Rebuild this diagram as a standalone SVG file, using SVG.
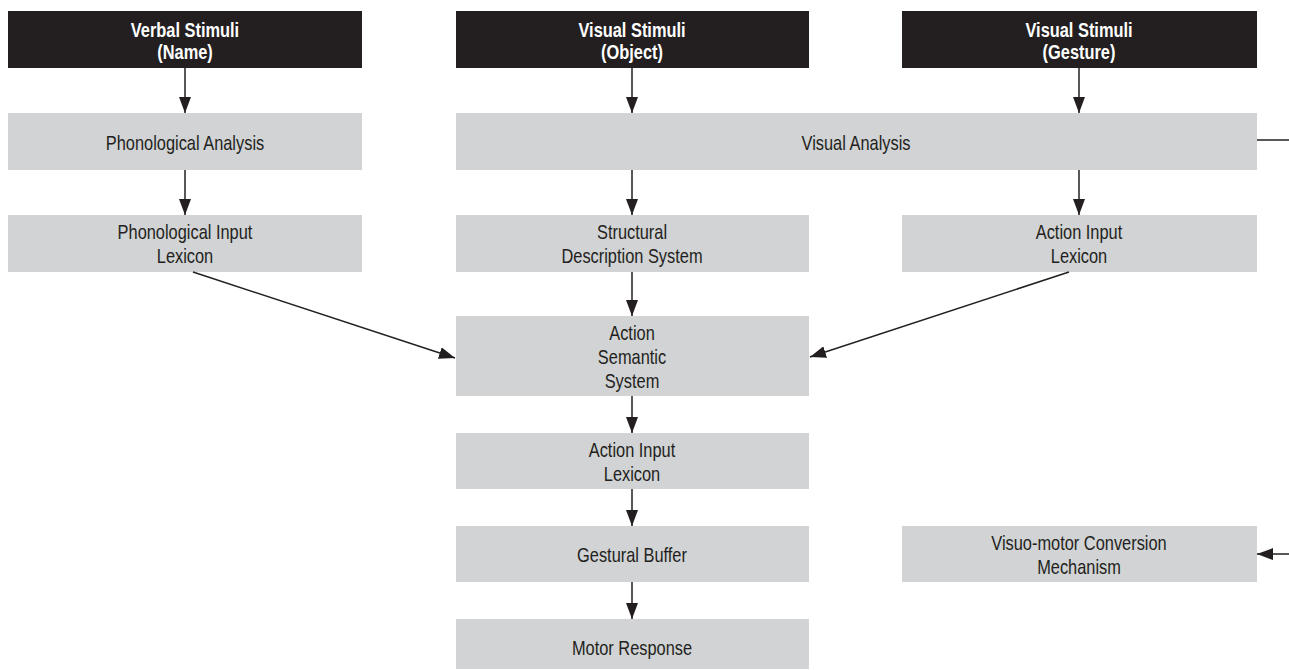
<svg xmlns="http://www.w3.org/2000/svg" width="1289" height="670" viewBox="0 0 1289 670">
<defs>
<style>
.g{fill:#d1d3d4}
.k{fill:#231f20}
.t{font-family:"Liberation Sans",Arial,sans-serif;font-size:20px;fill:#231f20;text-anchor:middle}
.tb{font-family:"Liberation Sans",Arial,sans-serif;font-size:20px;font-weight:bold;fill:#ffffff;text-anchor:middle}
.c{stroke:#231f20;stroke-width:1.5;fill:none}
</style>
<marker id="ah" markerUnits="userSpaceOnUse" markerWidth="16" markerHeight="12" refX="16" refY="6" orient="auto">
<path d="M0,0 L16,6 L0,12 z" fill="#231f20"/>
</marker>
</defs>
<rect width="1289" height="670" fill="#ffffff"/>
<g id="verbal">
<rect class="k" x="8" y="11" width="354" height="57"/>
<text class="tb" transform="translate(185,37) scale(0.82,1)">Verbal Stimuli</text>
<text class="tb" transform="translate(185,59) scale(0.82,1)">(Name)</text>
</g>
<g id="visual-object">
<rect class="k" x="456" y="11" width="353" height="57"/>
<text class="tb" transform="translate(632,37) scale(0.82,1)">Visual Stimuli</text>
<text class="tb" transform="translate(632,59) scale(0.82,1)">(Object)</text>
</g>
<g id="visual-gesture">
<rect class="k" x="902" y="11" width="355" height="57"/>
<text class="tb" transform="translate(1079,37) scale(0.82,1)">Visual Stimuli</text>
<text class="tb" transform="translate(1079,59) scale(0.82,1)">(Gesture)</text>
</g>
<g id="phon-analysis">
<rect class="g" x="8" y="113" width="354" height="57"/>
<text class="t" transform="translate(185,150) scale(0.82,1)">Phonological Analysis</text>
</g>
<g id="visual-analysis">
<rect class="g" x="456" y="113" width="801" height="57"/>
<text class="t" transform="translate(856,150) scale(0.82,1)">Visual Analysis</text>
</g>
<g id="phon-input-lexicon">
<rect class="g" x="8" y="215" width="354" height="57"/>
<text class="t" transform="translate(185,239) scale(0.82,1)">Phonological Input</text>
<text class="t" transform="translate(185,263) scale(0.82,1)">Lexicon</text>
</g>
<g id="structural">
<rect class="g" x="456" y="215" width="353" height="57"/>
<text class="t" transform="translate(632,239) scale(0.82,1)">Structural</text>
<text class="t" transform="translate(632,263) scale(0.82,1)">Description System</text>
</g>
<g id="action-input-lexicon-right">
<rect class="g" x="902" y="215" width="355" height="57"/>
<text class="t" transform="translate(1079,239) scale(0.82,1)">Action Input</text>
<text class="t" transform="translate(1079,263) scale(0.82,1)">Lexicon</text>
</g>
<g id="action-semantic">
<rect class="g" x="456" y="316" width="353" height="80"/>
<text class="t" transform="translate(632,340) scale(0.82,1)">Action</text>
<text class="t" transform="translate(632,364) scale(0.82,1)">Semantic</text>
<text class="t" transform="translate(632,388) scale(0.82,1)">System</text>
</g>
<g id="action-input-lexicon">
<rect class="g" x="456" y="433" width="353" height="56"/>
<text class="t" transform="translate(632,457) scale(0.82,1)">Action Input</text>
<text class="t" transform="translate(632,481) scale(0.82,1)">Lexicon</text>
</g>
<g id="gestural-buffer">
<rect class="g" x="456" y="526" width="353" height="56"/>
<text class="t" transform="translate(632,562) scale(0.82,1)">Gestural Buffer</text>
</g>
<g id="motor-response">
<rect class="g" x="456" y="619" width="353" height="50"/>
<text class="t" transform="translate(632,655) scale(0.82,1)">Motor Response</text>
</g>
<g id="visuo-motor">
<rect class="g" x="902" y="526" width="355" height="56"/>
<text class="t" transform="translate(1079,550) scale(0.82,1)">Visuo-motor Conversion</text>
<text class="t" transform="translate(1079,574) scale(0.82,1)">Mechanism</text>
</g>
<g id="connectors">
<line class="c" x1="185" y1="68" x2="185" y2="113" marker-end="url(#ah)"/>
<line class="c" x1="632" y1="68" x2="632" y2="113" marker-end="url(#ah)"/>
<line class="c" x1="1079" y1="68" x2="1079" y2="113" marker-end="url(#ah)"/>
<line class="c" x1="185" y1="170" x2="185" y2="215" marker-end="url(#ah)"/>
<line class="c" x1="632" y1="170" x2="632" y2="215" marker-end="url(#ah)"/>
<line class="c" x1="1079" y1="170" x2="1079" y2="215" marker-end="url(#ah)"/>
<line class="c" x1="632" y1="272" x2="632" y2="316" marker-end="url(#ah)"/>
<line class="c" x1="632" y1="396" x2="632" y2="433" marker-end="url(#ah)"/>
<line class="c" x1="632" y1="489" x2="632" y2="526" marker-end="url(#ah)"/>
<line class="c" x1="632" y1="582" x2="632" y2="619" marker-end="url(#ah)"/>
<line class="c" x1="193" y1="272" x2="455" y2="358" marker-end="url(#ah)"/>
<line class="c" x1="1069" y1="272" x2="810" y2="357" marker-end="url(#ah)"/>
<line class="c" x1="1257" y1="140" x2="1289" y2="140"/>
<line class="c" x1="1289" y1="554" x2="1257" y2="554" marker-end="url(#ah)"/>
</g>
</svg>
